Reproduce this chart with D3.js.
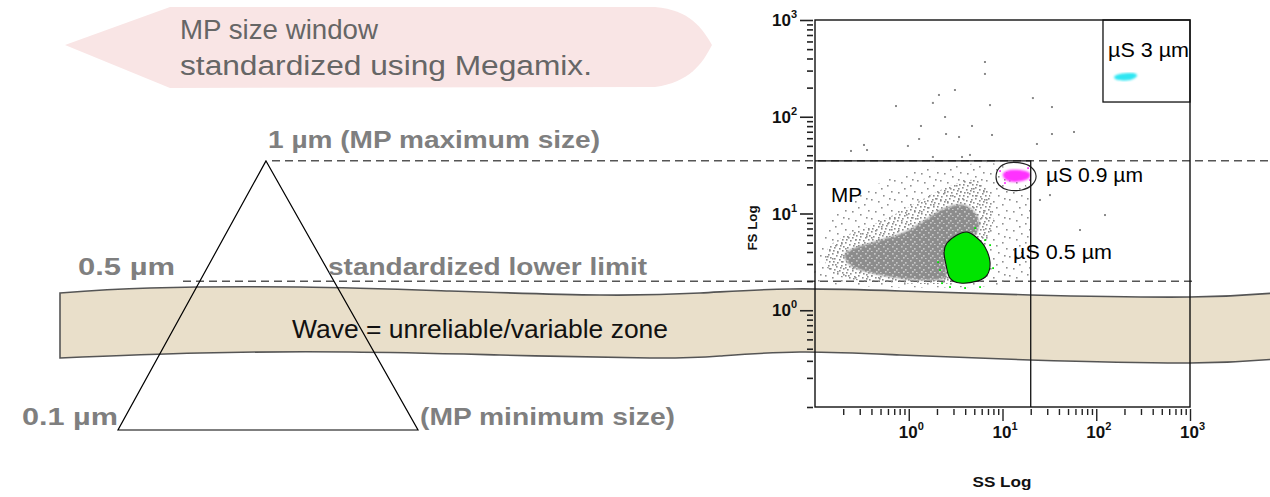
<!DOCTYPE html>
<html>
<head>
<meta charset="utf-8">
<script src="https://cdn.jsdelivr.net/npm/d3@7"></script>
<style>
  body { margin: 0; background: #fff; }
  svg { display: block; font-family: "Liberation Sans", Arial, sans-serif; }
</style>
</head>
<body>
<script>
// ---- values (SS, FS in instrument log units) ----
var axisMajors = [1, 10, 100, 1000];
var supLabels = ["0", "1", "2", "3"];

var mpTopFS = 35;        // 1 µm level (top of MP gate)
var lowerFS = 2;         // 0.5 µm level (standardized lower limit)
var mpRightSS = 20;      // right edge of MP gate
var box3SS = [118, 1000];
var box3FS = [142, 1000];

// gray event cloud, three density layers, outlined as [SS, FS]
var graySparse = [[0.128,6.75],[0.236,13.8],[0.807,25.0],[3.52,31.7],[9.4,31.7],[18.7,17.5],
                  [18.7,4.19],[12.0,1.87],[0.145,1.87],[0.113,3.31]];
var grayMedium = [[0.138,4.40],[0.209,5.85],[0.386,7.43],[0.807,10.4],[1.49,14.5],[2.75,19.2],
                  [5.09,22.2],[7.36,15.5],[7.92,7.61],[6.5,4.19],[5.75,2.15],[2.15,1.87],
                  [0.494,1.96],[0.185,2.21],[0.131,2.94]];
var grayDense = [[0.236,4.19],[0.494,5.32],[0.912,6.44],[1.49,8.57],[2.44,11.4],[3.98,12.2],
                 [5.48,8.98],[5.09,6.0],[2.75,4.40],[2.44,2.94],[2.44,2.15],[1.32,2.05],
                 [0.558,2.26],[0.267,2.73],[0.209,3.47]];
var grayOutliers = [[0.242,44.3],[0.333,51.1],[0.359,45.3],[0.731,129],[0.98,49.9],[1.29,58.9],
                    [1.35,80.3],[1.81,139],[2.1,168],[2.44,99.4],[2.5,66.3],[3.11,189],[3.44,61.8],
                    [4.73,80.3],[6.5,368],[6.5,277],[7.36,132],[7.73,64.8],[21.1,156],[23.3,52.3],
                    [33.7,126],[33.7,66.3],[57.9,69.6],[1.81,38.4],[3.7,38.4],[4.5,40.3],
                    [25.1,13.8],[32.1,15.5],[67.1,6.75],[124,9.64]];

// 0.5 µm beads (green) and their gate
var green05 = [[2.56,4.96],[3.27,6.0],[4.18,6.44],[5.22,5.71],[6.5,4.51],[7.36,3.15],[6.84,2.31],
               [5.35,2.0],[3.52,1.91],[2.75,2.15],[2.5,2.94],[2.38,4.0]];
var greenSpecks = [[2.15,2.61],[2.26,1.91],[2.75,1.74],[3.98,1.70],[5.75,1.74],[6.5,5.32],
                   [7.36,4.72],[2.05,3.15],[7.92,2.73],[5.09,7.08]];

// 0.9 µm beads (magenta) and their gate
var magenta09 = [[10.1,25.6],[12.0,28.1],[15.4,28.1],[19.5,26.2],[18.6,22.7],[13.9,21.2],[10.9,22.2]];
var magentaSpecks = [[9.4,27.5],[19.6,22.2],[18.7,29.5],[10.6,20.7]];
var gate09 = [[8.53,23.8],[9.18,29.5],[11.5,33.3],[15.4,33.3],[20.1,30.3],[22.8,24.4],[20.6,19.7],
              [16.1,17.5],[11.5,17.5],[9.18,19.7]];

// 3 µm beads (cyan)
var cyan3 = [[155,258],[179,277],[247,283],[272,264],[229,240],[171,240]];

// ---- page setup ----
var W = 1270, H = 497;
var svg = d3.select("body").append("svg").attr("width", W).attr("height", H);

var x = d3.scaleLog().domain([0.1, 1000]).range([815, 1190]);
var y = d3.scaleLog().domain([0.1, 1000]).range([407, 20]);

var defs = svg.append("defs");
function dotPattern(id, w, h, dots, col) {
  var p = defs.append("pattern").attr("id", id).attr("patternUnits", "userSpaceOnUse")
    .attr("width", w).attr("height", h);
  dots.forEach(function (d) {
    p.append("rect").attr("x", d[0]).attr("y", d[1]).attr("width", 1.6).attr("height", 1.6).attr("fill", col);
  });
}
dotPattern("sparse", 23, 19, [[1,2],[9,5],[17,1],[4,11],[13,14],[20,9],[7,17],[15,8]], "#8e8e8e");
dotPattern("medium", 13, 11, [[0,0],[4,2],[9,1],[2,5],[7,6],[11,4],[5,9],[10,8],[1,8],[8,3]], "#8a8a8a");
dotPattern("holes", 9, 7, [[1,1],[5,3],[3,5],[7,6]], "#f2f2f2");
var blur = defs.append("filter").attr("id", "soft").attr("x", "-10%").attr("y", "-10%")
  .attr("width", "120%").attr("height", "120%");
blur.append("feGaussianBlur").attr("stdDeviation", 1.3);

// ---- pink callout arrow ----
svg.append("path")
  .attr("d", "M65,45 L170,7 L655,7 C690,10 702,28 712,45 C702,64 690,82 655,87 L170,88 Z")
  .attr("fill", "#f9e5e5");
svg.append("text").attr("x", 180).attr("y", 39).attr("font-size", 27).attr("fill", "#666")
  .attr("textLength", 198).attr("lengthAdjust", "spacingAndGlyphs").text("MP size window");
svg.append("text").attr("x", 180).attr("y", 75).attr("font-size", 27).attr("fill", "#666")
  .attr("textLength", 412).attr("lengthAdjust", "spacingAndGlyphs").text("standardized using Megamix.");

// ---- wave band ----
var waveTop = [[60,293],[150,288],[300,287],[450,291],[600,295],[700,293],[790,289],[900,291],[1030,295],[1190,297],[1275,293]];
var waveBot = [[60,358],[200,353],[350,352],[500,355],[650,358],[720,356],[800,352],[900,355],[1030,360],[1190,363],[1275,359]];
var wl = d3.line().curve(d3.curveNatural);
var waveD = wl(waveTop) + "L" + wl(waveBot.slice().reverse()).slice(1) + "Z";
svg.append("path").attr("d", waveD).attr("fill", "#e9dfca").attr("stroke", "#555").attr("stroke-width", 1.6);

// ---- dashed size levels ----
svg.append("line").attr("x1", 272).attr("x2", 1268).attr("y1", y(mpTopFS)).attr("y2", y(mpTopFS))
  .attr("stroke", "#555").attr("stroke-width", 1.5).attr("stroke-dasharray", "8,5");
svg.append("line").attr("x1", 183).attr("x2", 1192).attr("y1", y(lowerFS)).attr("y2", y(lowerFS))
  .attr("stroke", "#555").attr("stroke-width", 1.5).attr("stroke-dasharray", "8,5");

// ---- scatter plot ----
var area = d3.line().x(function (d) { return x(d[0]); }).y(function (d) { return y(d[1]); })
  .curve(d3.curveCardinalClosed);
var plot = svg.append("g");

plot.append("path").attr("d", area(graySparse)).attr("fill", "url(#sparse)");
plot.append("path").attr("d", area(grayMedium)).attr("fill", "url(#medium)");
plot.append("path").attr("d", area(grayDense)).attr("fill", "#8c8c8c").attr("filter", "url(#soft)");
plot.append("path").attr("d", area(grayDense)).attr("fill", "url(#holes)").attr("opacity", 0.6);

plot.selectAll(".out").data(grayOutliers).enter().append("rect")
  .attr("x", function (d) { return x(d[0]) - 1; }).attr("y", function (d) { return y(d[1]) - 1; })
  .attr("width", 2).attr("height", 2).attr("fill", "#8a8a8a");

plot.append("path").attr("d", area(green05)).attr("fill", "#00e400");
plot.selectAll(".gs").data(greenSpecks).enter().append("rect")
  .attr("x", function (d) { return x(d[0]) - 0.8; }).attr("y", function (d) { return y(d[1]) - 0.8; })
  .attr("width", 1.8).attr("height", 1.8).attr("fill", "#00e400");
plot.append("path").attr("d", area(green05)).attr("fill", "none").attr("stroke", "#111").attr("stroke-width", 1.1);

plot.append("path").attr("d", area(magenta09)).attr("fill", "#ff33ff").attr("filter", "url(#soft)");
plot.selectAll(".ms").data(magentaSpecks).enter().append("rect")
  .attr("x", function (d) { return x(d[0]) - 0.8; }).attr("y", function (d) { return y(d[1]) - 0.8; })
  .attr("width", 1.8).attr("height", 1.8).attr("fill", "#ff33ff");
plot.append("path").attr("d", area(gate09)).attr("fill", "none").attr("stroke", "#222").attr("stroke-width", 1.2);

plot.append("path").attr("d", area(cyan3)).attr("fill", "#2ee6f2").attr("filter", "url(#soft)");

// gates
plot.append("path")
  .attr("d", "M" + x(0.1) + "," + y(mpTopFS) + "H" + x(mpRightSS) + "V" + y(0.1))
  .attr("fill", "none").attr("stroke", "#111").attr("stroke-width", 1.3);
plot.append("rect").attr("x", x(box3SS[0])).attr("y", y(box3FS[1]))
  .attr("width", x(box3SS[1]) - x(box3SS[0])).attr("height", y(box3FS[0]) - y(box3FS[1]))
  .attr("fill", "none").attr("stroke", "#111").attr("stroke-width", 1.3);

// frame
plot.append("rect").attr("x", x(0.1)).attr("y", y(1000))
  .attr("width", x(1000) - x(0.1)).attr("height", y(0.1) - y(1000))
  .attr("fill", "none").attr("stroke", "#111").attr("stroke-width", 1.4);

// axes
var allTicks = x.ticks().filter(function (v) { return v > 0.1; });
function isMajor(v) { return axisMajors.indexOf(v) >= 0; }

var yAx = plot.append("g").attr("transform", "translate(813,0)")
  .call(d3.axisLeft(y).tickValues(y.ticks()).tickSize(6).tickFormat(""));
yAx.select(".domain").remove();
yAx.selectAll(".tick line").attr("stroke", "#222").attr("stroke-width", 1.6)
  .attr("x2", function (d) { return isMajor(d) ? -13 : -6; });

var xAx = plot.append("g").attr("transform", "translate(0,409)")
  .call(d3.axisBottom(x).tickValues(allTicks).tickSize(6).tickFormat(""));
xAx.select(".domain").remove();
xAx.selectAll(".tick line").attr("stroke", "#222").attr("stroke-width", 1.4)
  .attr("y2", function (d) { return isMajor(d) ? 12 : 6; });

axisMajors.forEach(function (v, i) {
  var t = plot.append("text").attr("x", 797).attr("y", y(v) + 6).attr("text-anchor", "end")
    .attr("font-size", 17).attr("font-weight", "bold").attr("fill", "#111");
  t.append("tspan").text("10");
  t.append("tspan").attr("dy", -8).attr("font-size", 11).text(supLabels[i]);

  var u = plot.append("text").attr("x", x(v) - 10).attr("y", 438)
    .attr("font-size", 17).attr("font-weight", "bold").attr("fill", "#111");
  u.append("tspan").text("10");
  u.append("tspan").attr("dy", -8).attr("font-size", 11).text(supLabels[i]);
});

plot.append("text").attr("x", 1002).attr("y", 487).attr("text-anchor", "middle")
  .attr("font-size", 15).attr("font-weight", "bold").attr("fill", "#111")
  .attr("textLength", 59).attr("lengthAdjust", "spacingAndGlyphs").text("SS Log");
plot.append("text").attr("transform", "translate(757,228) rotate(-90)").attr("text-anchor", "middle")
  .attr("font-size", 13).attr("font-weight", "bold").attr("fill", "#111")
  .attr("textLength", 45).attr("lengthAdjust", "spacingAndGlyphs").text("FS Log");

// plot labels
function label(tx, ty, len, s) {
  plot.append("text").attr("x", tx).attr("y", ty).attr("font-size", 20).attr("fill", "#000")
    .attr("textLength", len).attr("lengthAdjust", "spacingAndGlyphs").text(s);
}
label(831, 202, 31, "MP");
label(1046, 182, 97, "µS 0.9 µm");
label(1013, 259, 99, "µS 0.5 µm");
label(1108, 57, 81, "µS 3 µm");

// ---- size triangle ----
var triBaseY = 430;
svg.append("path")
  .attr("d", "M266," + y(mpTopFS) + "L118," + triBaseY + "L418," + triBaseY + "Z")
  .attr("fill", "none").attr("stroke", "#000").attr("stroke-width", 1.2);

// ---- diagram labels ----
function gray(tx, ty, len, s) {
  svg.append("text").attr("x", tx).attr("y", ty).attr("font-size", 24).attr("font-weight", "bold")
    .attr("fill", "#7f7f7f").attr("textLength", len).attr("lengthAdjust", "spacingAndGlyphs").text(s);
}
gray(268, 148, 332, "1 µm (MP maximum size)");
gray(78, 275, 97, "0.5 µm");
gray(328, 275, 319, "standardized lower limit");
gray(22, 425, 96, "0.1 µm");
gray(420, 425, 255, "(MP minimum size)");

svg.append("text").attr("x", 292).attr("y", 338).attr("font-size", 25).attr("fill", "#111")
  .attr("textLength", 376).attr("lengthAdjust", "spacingAndGlyphs").text("Wave = unreliable/variable zone");
</script>
</body>
</html>
